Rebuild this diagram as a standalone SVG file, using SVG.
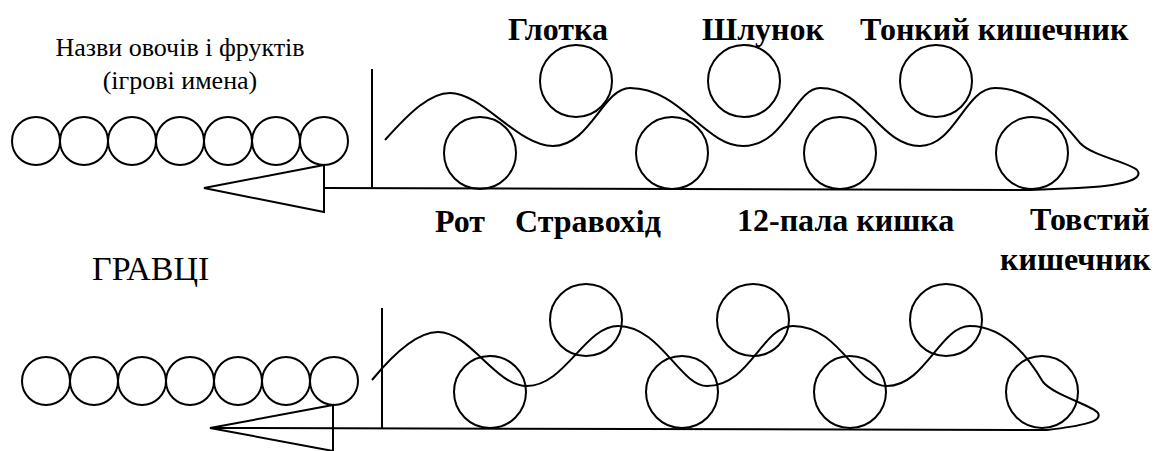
<svg xmlns="http://www.w3.org/2000/svg" width="1167" height="451" viewBox="0 0 1167 451">
<rect width="1167" height="451" fill="#fff"/>
<g id="labels" font-family="'Times New Roman', 'Liberation Serif', serif" fill="#000">
<text x="180" y="56" text-anchor="middle" font-size="26" font-family="'Times New Roman', 'Liberation Serif', serif">Назви овочів і фруктів</text>
<text x="180" y="89" text-anchor="middle" font-size="26" font-family="'Times New Roman', 'Liberation Serif', serif">(ігрові имена)</text>
<text x="92" y="280" font-size="34" font-family="'Times New Roman', 'Liberation Serif', serif">ГРАВЦІ</text>
<text x="508" y="40" font-size="32" font-weight="bold" font-family="'Times New Roman', 'Liberation Serif', serif">Глотка</text>
<text x="702" y="40" font-size="32" font-weight="bold" font-family="'Times New Roman', 'Liberation Serif', serif">Шлунок</text>
<text x="860" y="40" font-size="32" font-weight="bold" font-family="'Times New Roman', 'Liberation Serif', serif">Тонкий кишечник</text>
<text x="435" y="232" font-size="32" font-weight="bold" font-family="'Times New Roman', 'Liberation Serif', serif">Рот</text>
<text x="515" y="232" font-size="32" font-weight="bold" font-family="'Times New Roman', 'Liberation Serif', serif">Стравохід</text>
<text x="737" y="231" font-size="32" font-weight="bold" font-family="'Times New Roman', 'Liberation Serif', serif">12-пала кишка</text>
<text x="1030" y="230" font-size="32" font-weight="bold" font-family="'Times New Roman', 'Liberation Serif', serif">Товстий</text>
<text x="1000" y="270" font-size="32" font-weight="bold" font-family="'Times New Roman', 'Liberation Serif', serif">кишечник</text>
</g>
<g id="top-row" fill="none" stroke="#000" stroke-width="2">
<circle cx="36" cy="141" r="24"/>
<circle cx="84" cy="141" r="24"/>
<circle cx="132" cy="141" r="24"/>
<circle cx="180" cy="141" r="24"/>
<circle cx="228" cy="141" r="24"/>
<circle cx="276" cy="141" r="24"/>
<circle cx="324" cy="141" r="24"/>
</g>
<g id="bottom-row" fill="none" stroke="#000" stroke-width="2">
<circle cx="46" cy="381" r="24"/>
<circle cx="94" cy="381" r="24"/>
<circle cx="142" cy="381" r="24"/>
<circle cx="190" cy="381" r="24"/>
<circle cx="238" cy="381" r="24"/>
<circle cx="286" cy="381" r="24"/>
<circle cx="334" cy="381" r="24"/>
</g>
<g id="top-organs" fill="none" stroke="#000" stroke-width="2">
<circle cx="480" cy="153" r="36"/>
<circle cx="576" cy="81" r="36"/>
<circle cx="672" cy="153" r="36"/>
<circle cx="744" cy="81" r="36"/>
<circle cx="840" cy="153" r="36"/>
<circle cx="936" cy="81" r="36"/>
<circle cx="1032" cy="153" r="36"/>
</g>
<g id="bottom-organs" fill="none" stroke="#000" stroke-width="2">
<circle cx="490" cy="392" r="36"/>
<circle cx="586" cy="320" r="36"/>
<circle cx="682" cy="392" r="36"/>
<circle cx="753" cy="320" r="36"/>
<circle cx="850" cy="392" r="36"/>
<circle cx="946" cy="320" r="36"/>
<circle cx="1042" cy="392" r="36"/>
</g>
<g id="connectors" fill="none" stroke="#000" stroke-width="2">
<polygon points="204,188 324,165 324,212"/>
<path d="M324,188 L1030,190"/>
<path d="M372,69 L372,188"/>
<path d="M385,140 C410,112 430,93 450,93 C482,93 518,146 553,146 C590,146 603,88 630,88 C680,88 705,146 743,146 C785,146 795,88 820,88 C865,88 880,146 920,146 C955,146 965,88 995,88 C1035,88 1065,125 1080,143 C1092,156 1128,162 1137,170 C1145,180 1120,186 1078,188 L1030,190"/>
<polygon points="210,428 333,405 333,451"/>
<path d="M210,428 L1047,430"/>
<path d="M382,308 L382,428"/>
<path d="M372,380 C395,352 418,332 438,332 C470,332 495,386 527,386 C565,386 585,326 618,326 C660,326 680,386 707,386 C750,386 762,326 793,326 C840,326 855,386 887,386 C925,386 940,326 970,326 C1005,326 1030,360 1043,382 C1055,396 1092,405 1098,413 C1103,422 1080,426 1047,430"/>
</g>
</svg>
